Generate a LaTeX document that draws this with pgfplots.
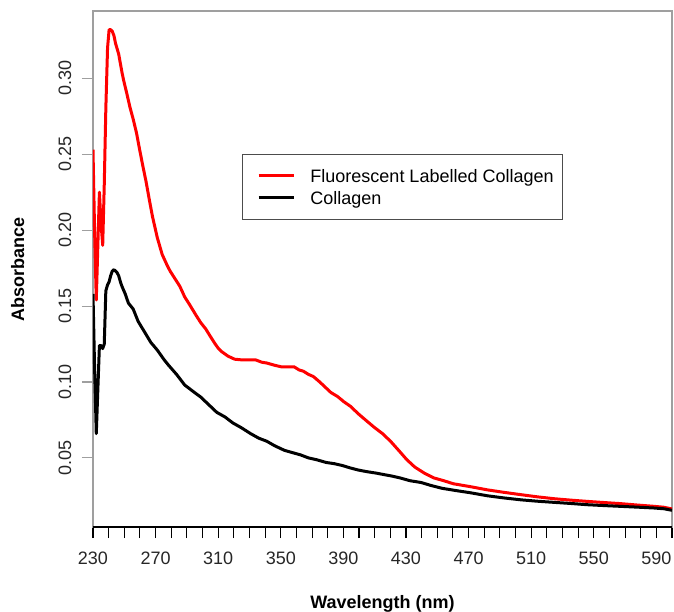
\documentclass[border=0pt]{standalone}
\usepackage{fontspec}
\setmainfont{Liberation Sans}
\usepackage{pgfplots}
\pgfplotsset{compat=1.18}
\usepackage{pgfplotstable}

\pgfplotstableread{
wl abs
230 0.253
231.0 0.200
232.1 0.154
233.1 0.190
234.1 0.225
235.1 0.205
236.2 0.190
237.2 0.230
238.2 0.280
239.3 0.320
240.3 0.332
241.3 0.332
242.3 0.331
243.4 0.328
244.4 0.323
246.4 0.316
248.5 0.304
249.5 0.299
251.6 0.290
253.6 0.281
255.7 0.273
257.8 0.264
259.8 0.253
261.9 0.242
263.9 0.232
266.0 0.220
268.0 0.209
271.1 0.195
274.2 0.184
277.3 0.177
279.3 0.173
282.4 0.168
285.5 0.163
288.6 0.156
291.7 0.151
295.8 0.144
298.9 0.139
302.0 0.135
305.0 0.130
308.1 0.125
310.2 0.122
312.2 0.120
316.3 0.117
320.5 0.115
324.6 0.1146
329.7 0.1146
333.8 0.1146
337.9 0.113
341.0 0.1125
346.1 0.111
350.3 0.110
354.4 0.110
358.5 0.110
361.6 0.108
364.6 0.107
367.7 0.105
370.8 0.1036
374.9 0.100
379.0 0.096
382.1 0.093
386.2 0.0905
390.3 0.087
394.5 0.084
399.6 0.079
404.7 0.0745
409.9 0.070
415.0 0.066
420.1 0.061
425.3 0.055
430.4 0.049
435.6 0.044
441.7 0.040
447.9 0.0368
454.1 0.035
460.2 0.033
471.5 0.031
481.8 0.029
492.1 0.0274
503.4 0.0258
513.7 0.0244
525.0 0.0231
535.3 0.0222
545.5 0.0214
556.8 0.0206
567.1 0.0199
577.4 0.0190
588.7 0.0181
594.9 0.0175
600.0 0.0164
}\redtable

\pgfplotstableread{
wl abs
230 0.158
231.0 0.110
232.1 0.066
233.1 0.095
234.1 0.124
235.1 0.124
236.2 0.122
237.2 0.125
238.2 0.160
239.3 0.164
240.3 0.166
241.3 0.170
242.3 0.173
243.4 0.174
244.4 0.173
245.4 0.172
246.4 0.170
247.5 0.166
248.5 0.163
250.6 0.158
252.6 0.152
255.7 0.148
258.8 0.140
262.9 0.133
267.0 0.126
271.1 0.121
275.2 0.115
278.3 0.111
283.4 0.105
288.6 0.098
293.7 0.094
298.9 0.090
304.0 0.085
309.1 0.080
314.3 0.077
319.4 0.073
324.6 0.070
330.7 0.066
335.9 0.063
341.0 0.061
346.1 0.058
352.3 0.055
357.4 0.0535
362.6 0.052
367.7 0.050
372.9 0.0488
379.0 0.047
384.2 0.0462
389.3 0.045
394.4 0.0434
399.6 0.042
404.7 0.041
410.9 0.040
416.0 0.039
421.2 0.038
426.3 0.0368
432.5 0.035
439.7 0.0338
445.8 0.0319
453.0 0.030
461.3 0.0286
471.5 0.027
481.8 0.0251
492.1 0.0237
503.4 0.0224
513.7 0.0215
525.0 0.0207
535.3 0.0200
545.5 0.0192
556.8 0.0186
567.1 0.0181
577.4 0.0176
588.7 0.0170
594.9 0.0165
600.0 0.0155
}\blacktable

\begin{document}
\begin{tikzpicture}
\begin{axis}[
  scale only axis,
  width=579pt, height=516pt,
  xmin=230, xmax=600,
  ymin=0.0045, ymax=0.3443,
  axis line style={draw=gray!75, line width=1.1pt},
  tick align=outside,
  tick pos=left,
  major tick length=11pt,
  minor tick length=11pt,
  xtick={230,270,310,350,390,430,470,510,550,590},
  minor xtick={240,250,260,280,290,300,320,330,340,360,370,380,400,410,420,440,450,460,480,490,500,520,530,540,560,570,580,600},
  ytick={0.05,0.10,0.15,0.20,0.25,0.30},
  xtick style={black, line width=1.1pt},
  minor x tick style={black, line width=1.1pt},
  ytick style={gray!75, line width=1.1pt},
  /pgf/number format/assume math mode=true,
  tick label style={font=\fontsize{18}{20}\selectfont, black!85},
  x tick label style={inner sep=0pt, anchor=north},
  y tick label style={/pgf/number format/.cd, fixed, fixed zerofill, precision=2, /tikz/.cd, rotate=90, anchor=south, inner sep=0pt},
  xticklabel shift=14pt,
  yticklabel shift=10.5pt,
  xlabel={\textbf{Wavelength (nm)}},
  ylabel={\textbf{Absorbance}},
  xlabel style={font=\fontsize{18}{20}\selectfont, at={(axis description cs:0.5,-0.1318)}, anchor=north, inner sep=0pt},
  ylabel style={font=\fontsize{18}{20}\selectfont, at={(axis description cs:-0.1183,0.5)}, anchor=south, inner sep=0pt},
  legend cell align=left,
  legend image code/.code={\path (0pt,0pt); \draw[#1] (5.7pt,0pt) -- (40.7pt,0pt);},
  legend style={at={(0.2573,0.7229)}, anchor=north west, draw=gray!60!black, line width=1pt, fill=white,
    inner xsep=9pt, inner ysep=15pt, row sep=8.6pt, column sep=15.3pt,
    font=\fontsize{18}{20}\selectfont,
    nodes={inner sep=0pt, text height=13pt, text depth=0pt}},
]
\addplot[red, line width=3pt, line join=round] table[x=wl, y=abs] {\redtable};
\addlegendentry{Fluorescent Labelled Collagen}
\addplot[black, line width=3pt, line join=round] table[x=wl, y=abs] {\blacktable};
\addlegendentry{Collagen}
\draw[black, line width=1.1pt] (rel axis cs:0,0) -- (rel axis cs:1,0);
\coordinate (SW) at (rel axis cs:0,0);
\end{axis}
\pgfresetboundingbox
\path (SW) ++(-93pt,-84pt) rectangle ++(674pt,611pt);
\end{tikzpicture}
\end{document}
